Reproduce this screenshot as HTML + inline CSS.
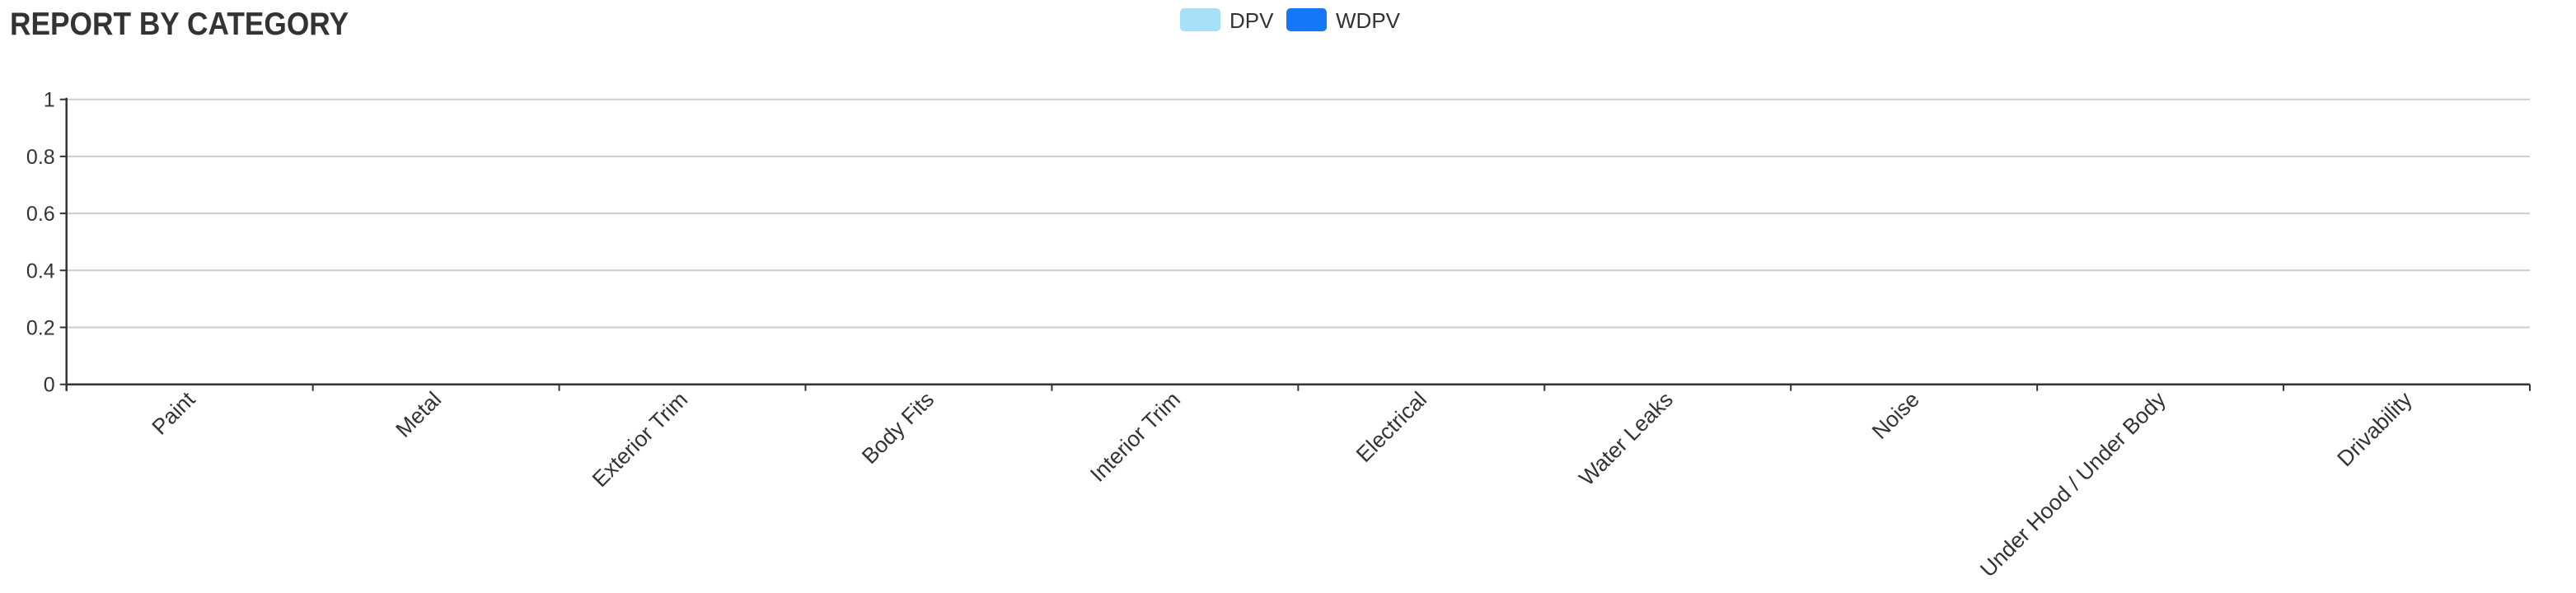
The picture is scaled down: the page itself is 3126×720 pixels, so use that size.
<!DOCTYPE html>
<html><head><meta charset="utf-8"><style>
html,body{margin:0;padding:0;background:#fff;width:3126px;height:720px;overflow:hidden}
svg{display:block;font-family:"Liberation Sans",sans-serif}
</style></head><body>
<svg id="chart" width="3126" height="720">
<text x="12" y="42" font-size="39" font-weight="bold" fill="#333" textLength="411" lengthAdjust="spacingAndGlyphs">REPORT BY CATEGORY</text>
<g>
<g><rect x="1432" y="10" width="49" height="28" rx="5" fill="#a8e1f7"/><text x="1492" y="34" font-size="26" fill="#333">DPV</text></g>
<g><rect x="1561" y="10" width="49" height="28" rx="5" fill="#1477f8"/><text x="1621" y="34" font-size="26" fill="#333">WDPV</text></g>
</g>
<g id="grid"></g>
<g id="yaxis"></g>
<g id="xaxis"></g>
<g id="bars"></g>
</svg>
<script>
const categories=["Paint","Metal","Exterior Trim","Body Fits","Interior Trim","Electrical","Water Leaks","Noise","Under Hood / Under Body","Drivability"];
const dpvValues=[0,0,0,0,0,0,0,0,0,0];
const wdpvValues=[0,0,0,0,0,0,0,0,0,0];
const yTicks=[0,0.2,0.4,0.6,0.8,1];
const yTickLabels=["0","0.2","0.4","0.6","0.8","1"];
const NS="http://www.w3.org/2000/svg";
const L=80.7,R=3070,T=120.7,B=466.7,yMax=1;
function y(v){return B-(v/yMax)*(B-T);}
function bw(){return (R-L)/categories.length;}
function x(i){return L+i*bw();}
function mk(tag,attrs,parent){const e=document.createElementNS(NS,tag);for(const k in attrs)e.setAttribute(k,attrs[k]);parent.appendChild(e);return e;}
const grid=document.getElementById('grid'),ya=document.getElementById('yaxis'),xa=document.getElementById('xaxis'),bars=document.getElementById('bars');
yTicks.forEach((t,i)=>{
  if(t>0){const g=mk('line',{x1:L,x2:R,y1:y(t),y2:y(t),stroke:'#ccc','stroke-width':2},grid);
  
  }
  const tk=mk('line',{x1:L-8,x2:L,y1:y(t),y2:y(t),stroke:'#333','stroke-width':2},ya);
  
  
  const lb=mk('text',{x:L-14,y:y(t)+9,'font-size':25,fill:'#333','text-anchor':'end'},ya);
  lb.textContent=yTickLabels[i];
  
  
});
mk('line',{x1:L,x2:L,y1:T-2,y2:B+8,stroke:'#333','stroke-width':2.5},ya);
mk('line',{x1:L,x2:R,y1:B,y2:B,stroke:'#333','stroke-width':2.5},xa);
for(let i=0;i<=categories.length;i++){
  const tk=mk('line',{x1:x(i),x2:x(i),y1:B,y2:B+8,stroke:'#333','stroke-width':2},xa);
  
  
}
categories.forEach((c,i)=>{
  const cx=x(i)+bw()/2+8,cy=B+20;
  const t=mk('text',{x:cx,y:cy,'font-size':26.5,fill:'#333','text-anchor':'end',transform:`rotate(-45 ${cx} ${cy})`},xa);
  t.textContent=c;
  
  
  const w=bw()*0.3;
  const b1=mk('rect',{x:x(i)+bw()/2-w,y:y(dpvValues[i]),width:w,height:B-y(dpvValues[i]),fill:'#a8e1f7'},bars);
  
  
  const b2=mk('rect',{x:x(i)+bw()/2,y:y(wdpvValues[i]),width:w,height:B-y(wdpvValues[i]),fill:'#1477f8'},bars);
  
  
});
</script>
</body></html>
